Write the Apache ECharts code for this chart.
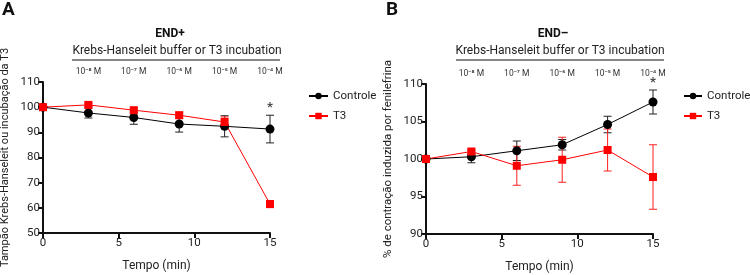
<!DOCTYPE html>
<html lang="pt">
<head>
  <meta charset="UTF-8">
  <title>END+ / END-</title>
  <style>
    body { margin: 0; background: #fff; }
  </style>
</head>
<body>
  <div id="main" style="width:750px;height:275px;"></div>

  <script src="https://cdn.jsdelivr.net/npm/echarts@6/dist/echarts.min.js"></script>
  <script>
    var font = 'Roboto, "Liberation Sans", Arial, sans-serif'

    // tempo (min)
    var times = [0, 3, 6, 9, 12, 15]
    var concLabels = ['10⁻⁸ M', '10⁻⁷ M', '10⁻⁶ M', '10⁻⁵ M', '10⁻⁴ M']
    var concTimes = [3, 6, 9, 12, 15]

    // painel A (END+)
    var ctrlA = [100, 97.7, 95.9, 93.3, 92.4, 91.3]
    var ctrlAErr = [0, 2.0, 2.7, 3.2, 4.2, 5.5]
    var t3A = [100, 100.9, 98.8, 96.8, 94.1, 61.5]
    var t3AErr = [0, 0.6, 1.0, 1.2, 2.0, 1.4]
    var sigA = ['', '', '', '', '', '*']

    // painel B (END-)
    var ctrlB = [100, 100.3, 101.1, 101.9, 104.6, 107.6]
    var ctrlBErr = [0, 0.8, 1.3, 0.7, 1.1, 1.6]
    var t3B = [100, 101.0, 99.1, 99.9, 101.2, 97.6]
    var t3BErr = [0, 0.3, 2.6, 3.0, 2.8, 4.3]
    var sigB = ['', '', '', '', '', '*']

    var myChart = echarts.init(document.getElementById('main'))

    function pairs(ys) {
      return times.map(function (t, i) { return [t, ys[i]] })
    }
    function errData(ys, errs) {
      return times.map(function (t, i) { return [t, ys[i], errs[i]] })
    }
    function sigData(ys, errs, sig) {
      var out = []
      sig.forEach(function (s, i) {
        if (s) out.push({ value: [times[i], ys[i] + errs[i]], label: { formatter: s } })
      })
      return out
    }

    function errSeries(idx, ys, errs, color) {
      return {
        type: 'custom',
        xAxisIndex: idx,
        yAxisIndex: idx,
        silent: true,
        z: 3,
        data: errData(ys, errs),
        renderItem: function (params, api) {
          var x = api.value(0), y = api.value(1), e = api.value(2)
          if (!e) return null
          var top = api.coord([x, y + e])
          var bot = api.coord([x, y - e])
          var w = 4
          var st = { stroke: color, lineWidth: 1 }
          return {
            type: 'group',
            children: [
              { type: 'line', shape: { x1: top[0], y1: top[1], x2: bot[0], y2: bot[1] }, style: st },
              { type: 'line', shape: { x1: top[0] - w, y1: top[1], x2: top[0] + w, y2: top[1] }, style: st },
              { type: 'line', shape: { x1: bot[0] - w, y1: bot[1], x2: bot[0] + w, y2: bot[1] }, style: st }
            ]
          }
        }
      }
    }

    function lineSeries(idx, name, ys, color, symbol) {
      return {
        name: name,
        type: 'line',
        xAxisIndex: idx,
        yAxisIndex: idx,
        data: pairs(ys),
        symbol: symbol,
        symbolSize: symbol === 'rect' ? 8 : 9,
        showAllSymbol: true,
        z: 4,
        itemStyle: { color: color },
        lineStyle: { color: color, width: 1 }
      }
    }

    function sigSeries(idx, ys, errs, sig) {
      return {
        type: 'scatter',
        xAxisIndex: idx,
        yAxisIndex: idx,
        silent: true,
        symbolSize: 1,
        itemStyle: { color: 'rgba(0,0,0,0)' },
        label: { show: true, position: 'top', distance: 0, color: '#111', fontSize: 13, fontFamily: font, fontWeight: 'bold' },
        data: sigData(ys, errs, sig)
      }
    }

    var axisText = { color: '#222', fontSize: 12, fontFamily: font }
    var tickText = { color: '#222', fontSize: 11.5, fontFamily: font }

    function xAx(idx) {
      return {
        type: 'value', gridIndex: idx, min: 0, max: 15, interval: 5,
        name: 'Tempo (min)', nameLocation: 'middle', nameGap: 27,
        nameTextStyle: axisText,
        axisLine: { lineStyle: { color: '#111', width: 2 } },
        axisTick: { length: 5, lineStyle: { color: '#111', width: 2 } },
        axisLabel: Object.assign({ margin: 4 }, tickText),
        splitLine: { show: false }
      }
    }
    function concAx(idx) {
      return {
        type: 'value', gridIndex: idx, min: 0, max: 15, interval: 3, position: 'top',
        axisLine: { show: false }, axisTick: { show: false }, splitLine: { show: false },
        axisLabel: {
          margin: 6, color: '#333', fontSize: 8.5, fontFamily: font,
          formatter: function (v) {
            var i = concTimes.indexOf(v)
            return i < 0 ? '' : concLabels[i]
          }
        }
      }
    }
    function yAx(idx, name, min, max, interval, gap, nameSize) {
      return {
        type: 'value', gridIndex: idx, min: min, max: max, interval: interval,
        name: name, nameLocation: 'middle', nameGap: gap,
        nameTextStyle: { color: '#222', fontSize: nameSize, fontFamily: font },
        axisLine: { show: true, lineStyle: { color: '#111', width: 2 } },
        axisTick: { show: true, length: 5, lineStyle: { color: '#111', width: 2 } },
        axisLabel: Object.assign({ margin: 3 }, tickText),
        splitLine: { show: false }
      }
    }

    function header(cx, lineX1, lineX2, title) {
      return [
        { type: 'text', x: cx - 7, y: 34, style: { text: title, fill: '#111', font: 'bold 12px ' + font, textAlign: 'center', textVerticalAlign: 'middle' } },
        { type: 'text', x: cx, y: 51, style: { text: 'Krebs-Hanseleit buffer or T3 incubation', fill: '#222', font: '12px ' + font, textAlign: 'center', textVerticalAlign: 'middle' } },
        { type: 'line', shape: { x1: lineX1, y1: 60, x2: lineX2, y2: 60 }, style: { stroke: '#111', lineWidth: 1 } }
      ]
    }

    var legendText = { color: '#222', fontSize: 11.5, fontFamily: font, overflow: 'none' }

    var options = {
      animation: false,
      textStyle: { fontFamily: font },
      grid: [
        { left: 43, top: 82, width: 227, height: 151, outerBoundsMode: 'none', containLabel: false },
        { left: 426, top: 84, width: 227, height: 150, outerBoundsMode: 'none', containLabel: false }
      ],
      xAxis: [xAx(0), xAx(1), concAx(0), concAx(1)],
      yAxis: [
        yAx(0, 'Tampão Krebs-Hanseleit ou incubação da T3', 50, 110, 10, 32, 11),
        yAx(1, '% de contração induzida por fenilefrina', 90, 110, 5, 32, 11.5)
      ],
      legend: [
        { left: 303, top: 85, orient: 'vertical', itemGap: 8, itemWidth: 19, itemHeight: 8,
          textStyle: legendText, data: ['Controle', 'T3'] },
        { left: 678, top: 85, orient: 'vertical', itemGap: 8, itemWidth: 18, itemHeight: 8,
          textStyle: legendText, data: ['Controle', 'T3'] }
      ],
      graphic: [
        { type: 'text', left: 2, top: 1, style: { text: 'A', fill: '#111', font: 'bold 19px ' + font } },
        { type: 'text', left: 386, top: 1, style: { text: 'B', fill: '#111', font: 'bold 19px ' + font } }
      ].concat(header(177, 72, 280, 'END+'), header(560, 456, 664, 'END–')),
      series: [
        errSeries(0, ctrlA, ctrlAErr, '#222'),
        errSeries(0, t3A, t3AErr, '#ff2020'),
        lineSeries(0, 'Controle', ctrlA, '#000', 'circle'),
        lineSeries(0, 'T3', t3A, '#ff0000', 'rect'),
        sigSeries(0, ctrlA, ctrlAErr, sigA),
        errSeries(1, ctrlB, ctrlBErr, '#222'),
        errSeries(1, t3B, t3BErr, '#ff2020'),
        lineSeries(1, 'Controle', ctrlB, '#000', 'circle'),
        lineSeries(1, 'T3', t3B, '#ff0000', 'rect'),
        sigSeries(1, ctrlB, ctrlBErr, sigB)
      ]
    }
    // the top concentration axes share the grids of the time axes
    options.xAxis[2].gridIndex = 0
    options.xAxis[3].gridIndex = 1
    myChart.setOption(options)
  </script>
</body>
</html>
